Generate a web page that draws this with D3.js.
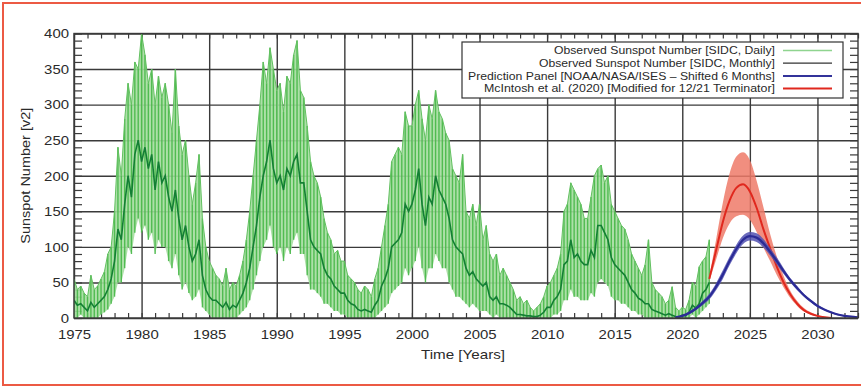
<!DOCTYPE html>
<html>
<head>
<meta charset="utf-8">
<script src="https://cdn.jsdelivr.net/npm/d3@7"></script>
<style>
  body { margin: 0; background: #fff; }
  svg { display: block; font-family: "Liberation Sans", Arial, sans-serif; }
</style>
</head>
<body>
<svg id="chart" width="861" height="387"></svg>
<script>
// Observed sunspot record, quarterly samples from 1975.0 to 2022.0
const obsStart = 1975, obsStep = 0.25;

// Daily values: upper envelope per quarter
const dailyHigh = [
  55, 40, 45, 35,   30, 60, 40, 45,   55, 65, 90, 100,  150, 240, 200, 280,
  330, 300, 360, 350, 400, 370, 330, 350, 300, 340, 310, 330, 300, 260, 350, 270,
  230, 250, 200, 160, 190, 230, 140, 100, 80, 70, 60, 55,  45, 70, 40, 50,
  45, 60, 80, 110,  150, 200, 250, 300, 360, 330, 380, 350, 320, 330, 290, 340,
  330, 370, 390, 320, 310, 270, 220, 200, 190, 170, 140, 120, 110, 90, 95, 80,
  80, 60, 55, 50,   40, 35, 45, 40,   30, 55, 70, 100,  130, 160, 220, 230,
  240, 230, 290, 270, 270, 300, 320, 280, 250, 300, 280, 320, 290, 280, 260, 250,
  210, 200, 190, 230, 150, 140, 160, 130, 160, 110, 130, 90, 80, 90, 60, 70,
  60, 50, 40, 25,   30, 20, 25, 15,   10, 15, 20, 30,   45, 50, 60, 70,
  90, 150, 160, 190, 180, 170, 160, 140, 140, 170, 200, 210, 215, 190, 200, 160,
  150, 140, 130, 125, 110, 90, 80, 70,  60, 75, 110, 50,  40, 35, 30, 20,
  25, 44, 15, 10,   15, 12, 25, 50,   45, 72, 80, 86,   110
];

// Daily values: lower envelope per quarter
const dailyLow = [
  0, 0, 5, 0,       0, 0, 0, 0,       5, 8, 12, 20,     30, 50, 50, 70,
  100, 90, 120, 140, 120, 130, 110, 120, 90, 110, 100, 100, 80, 70, 90, 60,
  40, 50, 35, 25,   30, 40, 15, 10,   5, 0, 0, 0,       0, 0, 0, 0,
  0, 5, 10, 15,     25, 40, 60, 80,   100, 110, 130, 100, 90, 100, 80, 100,
  90, 110, 120, 90, 90, 60, 40, 40,   35, 30, 20, 20,   15, 10, 10, 5,
  5, 0, 0, 0,       0, 0, 0, 0,       0, 0, 5, 10,      15, 20, 35, 40,
  45, 50, 70, 60,   70, 80, 100, 70,  50, 70, 70, 90,   80, 70, 70, 50,
  40, 30, 30, 25,   20, 15, 20, 15,   10, 10, 10, 5,    0, 5, 0, 0,
  0, 0, 0, 0,       0, 0, 0, 0,       0, 0, 0, 0,       0, 0, 5, 5,
  10, 25, 25, 40,   30, 30, 25, 25,   25, 35, 30, 50,   55, 50, 45, 30,
  25, 25, 20, 20,   15, 10, 10, 5,    5, 0, 0, 0,       0, 0, 0, 0,
  0, 0, 0, 0,       0, 0, 0, 5,       0, 5, 10, 15,     20
];

// Monthly mean, sampled per quarter
const monthlyMean = [
  25, 18, 20, 15,   10, 22, 15, 20,   25, 30, 40, 55,   80, 125, 110, 160,
  200, 170, 230, 250, 220, 240, 210, 230, 180, 220, 190, 200, 170, 150, 180, 140,
  110, 130, 100, 80, 90, 110, 60, 40,  30, 25, 25, 20,   15, 22, 12, 18,
  15, 25, 35, 50,   70, 100, 130, 170, 200, 220, 250, 210, 190, 200, 180, 210,
  200, 220, 230, 190, 190, 150, 110, 100, 95, 90, 70, 60, 55, 45, 40, 35,
  35, 25, 20, 18,   12, 10, 12, 10,   8, 18, 25, 45,    55, 70, 100, 105,
  110, 120, 160, 150, 160, 180, 210, 160, 130, 170, 160, 200, 180, 170, 160, 140,
  110, 100, 95, 90, 70, 60, 65, 55,   50, 45, 50, 30,   25, 30, 20, 20,
  18, 15, 10, 5,    5, 4, 3, 3,       2, 2, 4, 8,       15, 15, 25, 30,
  40, 75, 80, 110,  85, 90, 80, 75,   75, 95, 85, 130,  130, 120, 110, 85,
  75, 70, 65, 60,   50, 40, 35, 28,   25, 20, 20, 12,   10, 8, 6, 4,
  6, 4, 2, 1,       4, 3, 8, 18,      14, 20, 35, 40,   50
];

// NOAA/NASA/ISES prediction panel (shifted 6 months), half-year samples
const noaaYears = [2019.5, 2020, 2020.5, 2021, 2021.5, 2022, 2022.5, 2023, 2023.5, 2024,
  2024.5, 2025, 2025.5, 2026, 2026.5, 2027, 2027.5, 2028, 2028.5, 2029, 2029.5, 2030,
  2030.5, 2031, 2031.5, 2032, 2032.5, 2033];
const noaaMid = [1, 3, 7, 13, 21, 30, 44, 61, 80, 97, 110, 115, 113, 105, 93, 80, 66, 53,
  42, 32, 24, 17, 12, 8, 5, 3, 2, 1];
const noaaHigh = [2, 4, 9, 15, 24, 34, 49, 67, 86, 103, 116, 121, 119, 111, 98, 85, 70, 56,
  45, 34, 26, 19, 13, 9, 6, 4, 2, 1];
const noaaLow = [0, 2, 5, 11, 18, 26, 39, 55, 74, 91, 104, 109, 107, 99, 88, 75, 62, 50,
  39, 30, 22, 15, 11, 7, 4, 2, 1, 0];

// McIntosh et al. (2020), modified for the 12/21 terminator
const mcYears = [2022, 2022.5, 2023, 2023.5, 2024, 2024.5, 2025, 2025.5, 2026, 2026.5,
  2027, 2027.5, 2028, 2028.5, 2029, 2029.5, 2030, 2030.5, 2031];
const mcMid = [55, 95, 135, 165, 183, 188, 178, 155, 125, 98, 72, 50, 33, 20, 11, 6, 3, 1, 0];
const mcHigh = [58, 110, 162, 203, 227, 233, 222, 193, 156, 118, 86, 59, 38, 24, 14, 8, 4, 2, 0];
const mcLow = [52, 82, 112, 133, 143, 145, 138, 121, 99, 80, 60, 43, 28, 17, 9, 5, 2, 1, 0];

const xTickYears = [1975, 1980, 1985, 1990, 1995, 2000, 2005, 2010, 2015, 2020, 2025, 2030];
const yTickValues = [0, 50, 100, 150, 200, 250, 300, 350, 400];

const legendLabels = [
  "Observed Sunspot Number [SIDC, Daily]",
  "Observed Sunspot Number [SIDC, Monthly]",
  "Prediction Panel [NOAA/NASA/ISES \u2013 Shifted 6 Months]",
  "McIntosh et al. (2020) [Modified for 12/21 Terminator]"
];
const legendColors = ["#8fd48f", "#333333", "#33339a", "#e0281e"];
const legendTextWidths = [221, 236, 307, 291];

const svg = d3.select("#chart");
const x = d3.scaleLinear().domain([1975, 2033]).range([74, 858]);
const y = d3.scaleLinear().domain([0, 400]).range([318, 33.5]);
const plotH = y(0) - y(400);
const plotW = x(2033) - x(1975);

// outer frame
svg.append("rect")
  .attr("x", 3).attr("y", 3).attr("width", 880).attr("height", 382)
  .attr("fill", "none").attr("stroke", "#ec5a44").attr("stroke-width", 2);

// clip region for plotted data
svg.append("clipPath").attr("id", "plot-clip")
  .append("rect").attr("x", x(1975)).attr("y", y(400)).attr("width", plotW).attr("height", plotH);

// major grid with labels (digits drawn slightly wide)
const gridColor = "#3a3a3a";
const gx = svg.append("g")
  .attr("transform", `translate(0,${y(0)})`)
  .call(d3.axisBottom(x).tickValues(xTickYears).tickFormat(d3.format("d"))
    .tickSize(-plotH).tickPadding(11));
const gy = svg.append("g")
  .attr("transform", `translate(${x(1975)},0)`)
  .call(d3.axisLeft(y).tickValues(yTickValues).tickSize(-plotW).tickPadding(5));
[gx, gy].forEach(g => {
  g.select(".domain").remove();
  g.selectAll(".tick line").attr("stroke", gridColor).attr("stroke-width", 1.4);
  g.selectAll(".tick text").attr("fill", "#2a2a2a").attr("font-size", 13.5)
    .attr("font-family", "'Liberation Sans', Arial, sans-serif")
    .attr("textLength", function () { return this.textContent.length * 8.3; })
    .attr("lengthAdjust", "spacingAndGlyphs");
});

// minor ticks on all four sides
const yearTicks = d3.range(1975, 2034, 1);
const tenTicks = d3.range(0, 401, 10);
const minor = [
  svg.append("g").attr("transform", `translate(0,${y(0)})`)
    .call(d3.axisBottom(x).tickValues(yearTicks).tickSize(-5).tickFormat("")),
  svg.append("g").attr("transform", `translate(0,${y(400)})`)
    .call(d3.axisTop(x).tickValues(yearTicks).tickSize(-5).tickFormat("")),
  svg.append("g").attr("transform", `translate(${x(1975)},0)`)
    .call(d3.axisLeft(y).tickValues(tenTicks).tickSize(-8).tickFormat("")),
  svg.append("g").attr("transform", `translate(${x(2033)},0)`)
    .call(d3.axisRight(y).tickValues(tenTicks).tickSize(-8).tickFormat(""))
];
minor.forEach(g => {
  g.select(".domain").remove();
  g.selectAll(".tick line").attr("stroke", gridColor).attr("stroke-width", 1.2);
});

// observed data
const obs = dailyHigh.map((h, i) => ({
  t: obsStart + i * obsStep, hi: h, lo: dailyLow[i], mean: monthlyMean[i]
}));
const dataG = svg.append("g").attr("clip-path", "url(#plot-clip)");

dataG.append("path").datum(obs)
  .attr("fill", "#a4dd9f").attr("opacity", 0.9)
  .attr("d", d3.area().x(d => x(d.t)).y0(d => y(d.lo)).y1(d => y(d.hi)));

dataG.selectAll("line.spike").data(obs).join("line")
  .attr("class", "spike")
  .attr("x1", d => x(d.t)).attr("x2", d => x(d.t))
  .attr("y1", d => y(d.lo)).attr("y2", d => y(d.hi))
  .attr("stroke", "#47b848").attr("stroke-width", 1.4).attr("opacity", 0.9);

dataG.append("path").datum(obs)
  .attr("fill", "none").attr("stroke", "#62c060").attr("stroke-width", 1)
  .attr("d", d3.line().x(d => x(d.t)).y(d => y(d.hi)));

dataG.append("path").datum(obs)
  .attr("fill", "none").attr("stroke", "#137f34").attr("stroke-width", 1.6)
  .attr("d", d3.line().x(d => x(d.t)).y(d => y(d.mean)));

// McIntosh et al. prediction
const mc = mcYears.map((t, i) => ({ t, mid: mcMid[i], hi: mcHigh[i], lo: mcLow[i] }));
dataG.append("path").datum(mc)
  .attr("fill", "#ef7a68").attr("opacity", 0.85)
  .attr("d", d3.area().curve(d3.curveMonotoneX).x(d => x(d.t)).y0(d => y(d.lo)).y1(d => y(d.hi)));
dataG.append("path").datum(mc)
  .attr("fill", "none").attr("stroke", "#e0281e").attr("stroke-width", 2)
  .attr("d", d3.line().curve(d3.curveMonotoneX).x(d => x(d.t)).y(d => y(d.mid)));

// NOAA/NASA/ISES prediction
const noaa = noaaYears.map((t, i) => ({ t, mid: noaaMid[i], hi: noaaHigh[i], lo: noaaLow[i] }));
dataG.append("path").datum(noaa)
  .attr("fill", "#5151b0").attr("opacity", 0.85)
  .attr("d", d3.area().curve(d3.curveMonotoneX).x(d => x(d.t)).y0(d => y(d.lo)).y1(d => y(d.hi)));
dataG.append("path").datum(noaa)
  .attr("fill", "none").attr("stroke", "#2b2b96").attr("stroke-width", 2.2)
  .attr("d", d3.line().curve(d3.curveMonotoneX).x(d => x(d.t)).y(d => y(d.mid)));

// plot frame
svg.append("rect")
  .attr("x", x(1975)).attr("y", y(400)).attr("width", plotW).attr("height", plotH)
  .attr("fill", "none").attr("stroke", gridColor).attr("stroke-width", 1.4);

// axis titles
svg.append("text")
  .attr("transform", `translate(30,${(y(0) + y(400)) / 2}) rotate(-90)`)
  .attr("text-anchor", "middle").attr("font-size", 13.5).attr("fill", "#2a2a2a")
  .attr("textLength", 136).attr("lengthAdjust", "spacingAndGlyphs")
  .text("Sunspot Number [v2]");
svg.append("text")
  .attr("x", 463).attr("y", 359)
  .attr("text-anchor", "middle").attr("font-size", 13.5).attr("fill", "#2a2a2a")
  .attr("textLength", 84).attr("lengthAdjust", "spacingAndGlyphs")
  .text("Time [Years]");

// legend
const lg = svg.append("g");
lg.append("rect")
  .attr("x", 462).attr("y", 42).attr("width", 381).attr("height", 56)
  .attr("fill", "#fff").attr("stroke", "#333").attr("stroke-width", 1.2);
legendLabels.forEach((label, i) => {
  const ly = 50.5 + i * 12.7;
  lg.append("text")
    .attr("x", 775).attr("y", ly).attr("dy", "0.35em")
    .attr("text-anchor", "end").attr("font-size", 11).attr("fill", "#2a2a2a")
    .attr("textLength", legendTextWidths[i]).attr("lengthAdjust", "spacingAndGlyphs")
    .text(label);
  lg.append("line")
    .attr("x1", 783).attr("x2", 832).attr("y1", ly).attr("y2", ly)
    .attr("stroke", legendColors[i]).attr("stroke-width", i < 2 ? 1.3 : 2);
});
</script>
</body>
</html>
